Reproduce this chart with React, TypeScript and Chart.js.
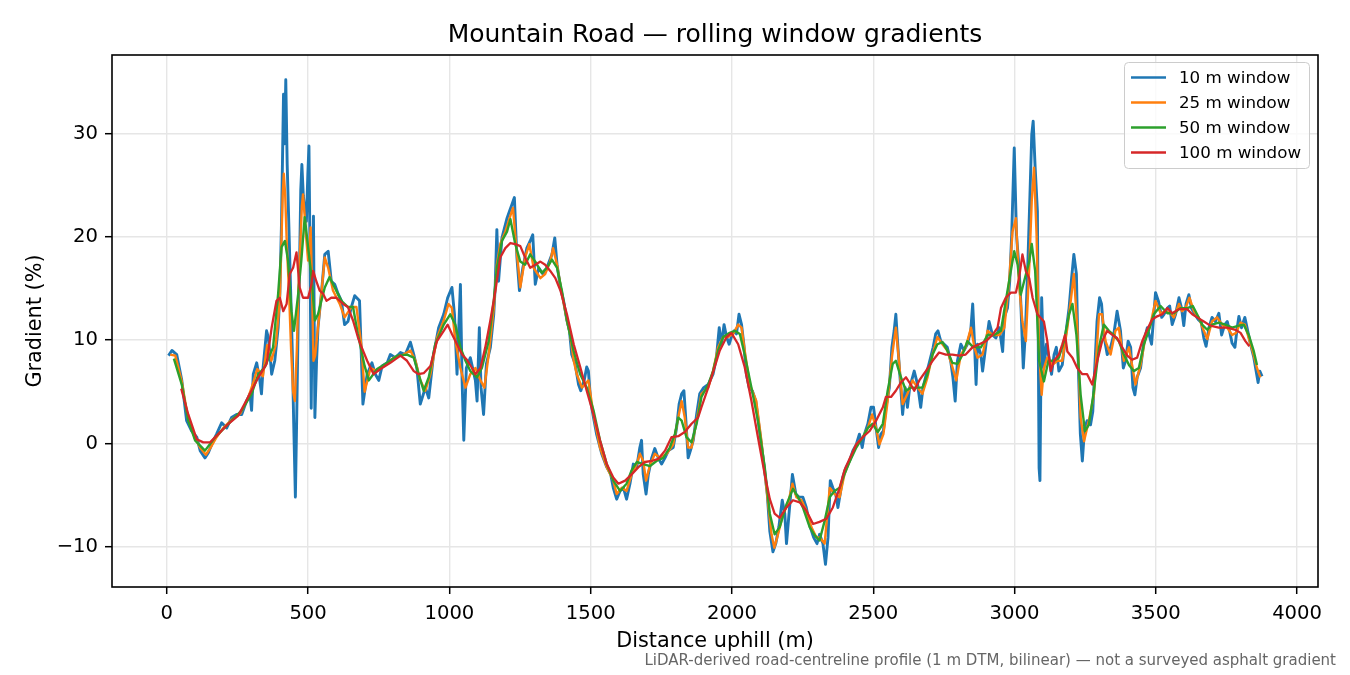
import React, { useEffect, useRef } from "react";
import { Chart, registerables } from "chart.js";

Chart.register(...registerables);

// ---------- data ----------
const dist10 = [
  6, 18, 35, 53, 70, 88, 106, 118, 135, 147,
  165, 176, 194, 212, 229, 247, 265, 282, 294, 300,
  306, 318, 329, 335, 341, 353, 359, 365, 371, 382,
  394, 400, 406, 413, 417, 421, 426, 432, 438, 444,
  449, 455, 460, 465, 470, 474, 478, 483, 489, 494,
  499, 503, 507, 511, 515, 519, 524, 530, 535, 547,
  559, 571, 582, 594, 606, 618, 629, 641, 653, 665,
  682, 694, 709, 726, 738, 750, 762, 780, 791, 809,
  827, 844, 862, 874, 885, 897, 915, 927, 944, 962,
  980, 994, 1009, 1018, 1027, 1039, 1045, 1051, 1060, 1074,
  1092, 1098, 1106, 1112, 1121, 1131, 1145, 1157, 1162, 1168,
  1174, 1186, 1204, 1213, 1221, 1230, 1239, 1248, 1260, 1274,
  1286, 1295, 1304, 1316, 1331, 1345, 1363, 1373, 1381, 1393,
  1404, 1416, 1425, 1433, 1445, 1457, 1465, 1477, 1486, 1492,
  1500, 1510, 1521, 1539, 1557, 1571, 1580, 1592, 1604, 1616,
  1627, 1639, 1651, 1663, 1674, 1680, 1686, 1696, 1704, 1716,
  1727, 1739, 1751, 1763, 1775, 1792, 1804, 1813, 1822, 1830,
  1837, 1845, 1853, 1863, 1875, 1886, 1900, 1916, 1933, 1945,
  1955, 1963, 1972, 1981, 1990, 1998, 2008, 2016, 2025, 2034,
  2042, 2051, 2061, 2072, 2084, 2098, 2113, 2125, 2134, 2145,
  2155, 2166, 2178, 2187, 2193, 2202, 2214, 2226, 2237, 2251,
  2263, 2277, 2289, 2301, 2310, 2322, 2331, 2340, 2348, 2357,
  2367, 2375, 2383, 2392, 2404, 2416, 2428, 2440, 2451, 2461,
  2469, 2481, 2492, 2501, 2510, 2519, 2527, 2536, 2545, 2557,
  2566, 2574, 2580, 2586, 2594, 2604, 2613, 2621, 2629, 2639,
  2645, 2657, 2668, 2676, 2688, 2700, 2712, 2721, 2729, 2739,
  2751, 2762, 2774, 2782, 2790, 2798, 2810, 2821, 2833, 2845,
  2852, 2858, 2864, 2869, 2881, 2887, 2899, 2910, 2922, 2934,
  2946, 2958, 2964, 2975, 2983, 2990, 2999, 3007, 3016, 3022,
  3031, 3038, 3046, 3054, 3061, 3066, 3073, 3081, 3087, 3090,
  3096, 3104, 3113, 3122, 3131, 3140, 3148, 3157, 3169, 3181,
  3193, 3202, 3210, 3219, 3226, 3233, 3240, 3248, 3257, 3269,
  3277, 3284, 3292, 3301, 3308, 3316, 3328, 3340, 3351, 3363,
  3375, 3385, 3393, 3402, 3411, 3419, 3426, 3434, 3446, 3458,
  3470, 3485, 3499, 3509, 3521, 3529, 3541, 3549, 3558, 3570,
  3582, 3591, 3599, 3607, 3617, 3626, 3638, 3650, 3661, 3670,
  3678, 3688, 3699, 3711, 3723, 3733, 3744, 3753, 3761, 3770,
  3780, 3788, 3794, 3803, 3815, 3823, 3835, 3847, 3855, 3862,
  3868, 3876,
];
const grad10 = [
  8.5, 9.0, 8.6, 6.1, 2.2, 1.2, 0.6, -0.7, -1.4, -0.9,
  0.3, 0.9, 2.0, 1.5, 2.5, 2.8, 2.8, 4.1, 4.8, 3.2,
  6.7, 7.8, 6.1, 4.8, 7.4, 10.9, 10.3, 8.6, 6.7, 8.0,
  11.2, 14.5, 21.5, 33.8, 29.0, 35.2, 27.0, 21.0, 15.0, 9.0,
  2.0, -5.2, 3.0, 12.0, 17.7, 24.5, 27.0, 24.0, 22.5, 21.5,
  26.0, 28.8, 18.0, 3.4, 14.0, 22.0, 2.5, 8.0, 11.2, 14.5,
  18.3, 18.6, 15.7, 15.4, 14.5, 13.8, 11.5, 11.8, 13.2, 14.3,
  13.8, 3.8, 6.7, 7.8, 6.7, 6.1, 7.5, 7.8, 8.6, 8.3,
  8.8, 8.6, 9.8, 8.6, 7.3, 3.8, 5.4, 4.4, 8.6, 11.2,
  12.5, 14.1, 15.1, 12.5, 6.7, 15.4, 6.1, 0.3, 7.3, 8.3,
  6.1, 4.1, 11.2, 5.4, 2.8, 7.7, 9.3, 12.5, 15.1, 20.7,
  15.7, 19.9, 21.8, 22.5, 23.1, 23.8, 18.0, 14.8, 17.0, 18.9,
  19.6, 20.2, 15.4, 17.0, 16.4, 17.0, 18.3, 19.9, 17.3, 15.1,
  13.8, 11.9, 10.9, 8.6, 7.7, 5.7, 5.1, 6.1, 7.4, 7.0,
  4.1, 2.5, 0.9, -1.0, -2.3, -3.0, -4.3, -5.4, -4.6, -4.3,
  -5.4, -3.9, -2.0, -2.3, -0.4, 0.3, -3.0, -4.9, -3.0, -1.4,
  -0.5, -1.4, -2.0, -1.4, -0.7, -0.4, 1.5, 3.8, 4.8, 5.1,
  2.2, -1.4, -0.7, 0.3, 2.8, 4.8, 5.4, 5.7, 6.7, 8.3,
  11.2, 9.6, 11.5, 10.3, 9.6, 10.3, 10.9, 10.6, 12.5, 11.5,
  9.6, 6.7, 5.4, 5.1, 4.1, 1.2, -2.0, -4.9, -8.5, -10.5,
  -9.7, -8.1, -5.5, -6.8, -9.7, -6.8, -3.0, -4.9, -5.2, -5.2,
  -6.2, -8.1, -9.1, -9.7, -8.8, -9.7, -11.7, -9.1, -3.6, -4.3,
  -4.9, -6.2, -4.9, -3.3, -2.3, -1.7, -0.7, -0.1, 0.9, -0.4,
  0.9, 1.9, 3.5, 3.5, 1.5, -0.4, 0.9, 1.2, 3.5, 5.4,
  9.3, 10.9, 12.5, 9.9, 6.7, 2.8, 5.4, 3.5, 5.4, 6.4,
  7.0, 5.7, 3.5, 5.4, 6.7, 8.0, 9.3, 10.6, 10.9, 9.9,
  9.6, 9.3, 8.0, 6.4, 4.1, 8.0, 9.6, 9.0, 9.6, 10.9,
  13.5, 9.9, 5.7, 9.6, 8.6, 7.0, 9.6, 11.8, 10.5, 10.2,
  11.2, 8.9, 12.2, 13.1, 15.7, 20.2, 28.6, 20.2, 17.0, 13.8,
  7.3, 10.5, 16.4, 23.5, 29.9, 31.2, 26.7, 22.5, -2.4, -3.6,
  14.1, 7.3, 9.6, 8.3, 6.7, 8.6, 9.3, 7.0, 7.6, 10.5,
  13.1, 16.0, 18.3, 16.4, 7.3, 0.9, -1.7, 1.5, 2.2, 1.8,
  3.1, 7.3, 11.8, 14.1, 13.5, 10.5, 8.6, 9.3, 10.5, 12.8,
  10.9, 7.3, 8.0, 9.9, 9.3, 5.4, 4.7, 6.4, 7.3, 9.9,
  11.2, 9.6, 14.6, 13.8, 12.2, 12.5, 13.1, 13.3, 11.5, 12.5,
  14.1, 13.1, 11.4, 13.5, 14.4, 13.1, 12.5, 12.0, 11.7, 10.2,
  9.4, 11.2, 12.2, 11.8, 12.6, 10.5, 11.5, 11.8, 10.9, 9.7,
  9.3, 11.2, 12.3, 11.2, 12.2, 11.2, 9.6, 8.3, 7.0, 5.9,
  7.0, 6.5,
];

const dist25 = [
  12, 30, 53, 76, 100, 120, 138, 155, 176, 200,
  230, 260, 285, 305, 320, 340, 355, 370, 385, 394,
  400, 405, 410, 414, 419, 425, 432, 440, 447, 453,
  460, 466, 472, 478, 482, 488, 493, 500, 505, 509,
  514, 519, 525, 529, 541, 559, 571, 588, 612, 629,
  653, 671, 688, 700, 721, 744, 768, 803, 838, 862,
  880, 897, 915, 933, 956, 980, 997, 1009, 1021, 1039,
  1057, 1074, 1092, 1110, 1124, 1139, 1157, 1168, 1180, 1198,
  1213, 1225, 1237, 1251, 1268, 1283, 1298, 1322, 1339, 1357,
  1367, 1381, 1398, 1416, 1427, 1440, 1451, 1469, 1492, 1510,
  1533, 1557, 1580, 1592, 1610, 1627, 1645, 1663, 1674, 1686,
  1696, 1708, 1727, 1745, 1769, 1792, 1810, 1822, 1833, 1845,
  1857, 1875, 1892, 1916, 1933, 1951, 1969, 1986, 2004, 2022,
  2034, 2045, 2063, 2086, 2104, 2122, 2140, 2150, 2163, 2181,
  2198, 2214, 2228, 2246, 2263, 2281, 2299, 2310, 2328, 2346,
  2363, 2381, 2398, 2416, 2440, 2463, 2481, 2496, 2510, 2522,
  2536, 2551, 2566, 2580, 2592, 2604, 2621, 2639, 2657, 2674,
  2692, 2710, 2727, 2745, 2762, 2780, 2794, 2810, 2827, 2846,
  2858, 2869, 2887, 2905, 2922, 2946, 2964, 2981, 2993, 3005,
  3016, 3028, 3040, 3052, 3061, 3069, 3078, 3087, 3096, 3104,
  3116, 3134, 3152, 3169, 3187, 3199, 3210, 3222, 3234, 3246,
  3263, 3281, 3299, 3310, 3322, 3340, 3357, 3369, 3387, 3405,
  3428, 3446, 3463, 3481, 3499, 3517, 3535, 3552, 3564, 3582,
  3593, 3605, 3619, 3635, 3652, 3670, 3682, 3699, 3717, 3735,
  3753, 3770, 3784, 3800, 3815, 3829, 3843, 3858, 3870,
];
const grad25 = [
  8.6, 8.5, 6.0, 2.3, 0.5, -0.5, -1.1, -0.4, 0.6, 1.5,
  2.3, 2.9, 4.2, 5.8, 7.2, 6.5, 9.5, 8.0, 9.5, 12.0,
  14.0, 19.0, 24.0, 26.1, 24.0, 19.0, 15.0, 9.0, 5.0, 4.1,
  9.0, 15.0, 19.0, 23.0, 24.1, 22.0, 20.0, 17.7, 19.0, 20.9,
  15.0, 8.0, 8.5, 9.6, 12.8, 18.0, 17.0, 14.8, 13.5, 12.2,
  13.2, 13.2, 9.6, 5.0, 7.3, 7.0, 7.5, 8.3, 8.6, 9.0,
  8.0, 6.1, 5.1, 6.7, 10.2, 11.9, 13.5, 13.1, 9.9, 7.3,
  5.4, 6.7, 7.3, 6.1, 5.4, 8.6, 13.1, 17.3, 19.3, 20.5,
  21.8, 22.8, 18.9, 15.1, 18.0, 19.3, 17.0, 16.0, 16.4, 17.6,
  18.9, 17.3, 14.5, 11.9, 10.6, 8.0, 6.7, 5.4, 6.1, 2.8,
  -0.4, -2.3, -3.6, -4.9, -4.3, -4.6, -3.0, -2.0, -1.0, -1.7,
  -3.6, -2.3, -1.0, -1.4, -1.0, -0.1, 2.5, 4.1, 2.5, -0.4,
  -0.4, 2.2, 4.8, 5.4, 7.0, 9.3, 10.3, 10.3, 10.6, 11.5,
  11.2, 9.0, 5.7, 4.1, 0.3, -4.3, -8.8, -10.1, -8.8, -6.8,
  -5.9, -3.9, -5.2, -5.5, -6.5, -8.1, -9.1, -9.1, -9.7, -4.3,
  -4.9, -5.2, -3.0, -1.7, -0.1, 0.6, 1.5, 2.8, 1.5, -0.1,
  0.9, 4.1, 8.3, 11.2, 7.7, 3.8, 4.8, 6.1, 5.4, 4.8,
  6.4, 8.6, 10.3, 9.6, 9.0, 7.4, 6.1, 8.6, 9.3, 11.2,
  9.3, 8.3, 8.6, 10.9, 10.5, 10.5, 11.2, 15.7, 20.5, 21.8,
  15.4, 11.8, 9.9, 17.0, 23.5, 26.7, 20.2, 8.9, 4.7, 7.3,
  8.3, 7.6, 8.0, 8.0, 11.2, 13.8, 16.4, 11.2, 2.5, 0.2,
  2.2, 4.7, 12.5, 12.5, 9.9, 8.6, 10.9, 11.2, 8.0, 9.3,
  5.7, 7.6, 10.2, 11.5, 13.8, 12.6, 12.8, 12.6, 12.2, 13.5,
  12.8, 13.1, 14.1, 12.8, 12.2, 10.9, 10.1, 11.8, 12.2, 11.5,
  11.2, 10.5, 10.7, 11.7, 11.5, 10.2, 8.9, 7.3, 6.4,
];

const dist50 = [
  25, 53, 76, 100, 135, 171, 218, 265, 300, 324,
  347, 376, 394, 406, 418, 429, 441, 450, 465, 476,
  488, 500, 512, 524, 535, 547, 559, 576, 594, 618,
  641, 659, 676, 700, 715, 744, 780, 815, 850, 874,
  891, 909, 927, 950, 980, 1003, 1021, 1039, 1057, 1074,
  1098, 1115, 1139, 1157, 1168, 1186, 1204, 1216, 1233, 1251,
  1268, 1286, 1304, 1327, 1345, 1363, 1381, 1398, 1416, 1439,
  1463, 1486, 1510, 1533, 1557, 1580, 1604, 1627, 1645, 1663,
  1686, 1710, 1733, 1757, 1780, 1798, 1810, 1822, 1839, 1857,
  1875, 1892, 1916, 1933, 1951, 1969, 1992, 2010, 2028, 2045,
  2069, 2092, 2116, 2134, 2151, 2169, 2193, 2216, 2234, 2251,
  2275, 2293, 2310, 2328, 2346, 2363, 2381, 2398, 2416, 2440,
  2463, 2481, 2498, 2516, 2534, 2551, 2569, 2580, 2598, 2616,
  2633, 2651, 2674, 2692, 2710, 2727, 2745, 2762, 2780, 2798,
  2816, 2833, 2851, 2869, 2881, 2905, 2928, 2952, 2969, 2987,
  2999, 3011, 3022, 3034, 3052, 3061, 3073, 3087, 3104, 3120,
  3140, 3157, 3175, 3193, 3205, 3219, 3234, 3249, 3263, 3281,
  3299, 3316, 3334, 3351, 3369, 3387, 3405, 3422, 3440, 3458,
  3476, 3493, 3517, 3541, 3564, 3587, 3611, 3631, 3646, 3664,
  3682, 3699, 3723, 3746, 3770, 3794, 3811, 3829, 3847, 3858,
];
const grad50 = [
  8.2, 5.7, 2.2, 0.3, -0.7, 0.6, 1.9, 3.2, 4.8, 6.7,
  7.4, 9.3, 14.5, 19.0, 19.6, 17.7, 12.8, 10.9, 14.5, 17.7,
  21.9, 19.0, 16.1, 11.9, 12.5, 13.8, 15.1, 16.1, 15.1, 13.8,
  13.2, 13.2, 10.6, 7.5, 6.1, 7.2, 7.8, 8.5, 8.6, 8.3,
  6.7, 5.1, 6.4, 9.6, 11.5, 12.5, 11.5, 9.3, 8.0, 7.0,
  6.4, 7.3, 9.9, 13.8, 17.0, 19.6, 20.5, 21.7, 19.3, 17.6,
  17.3, 18.3, 17.6, 16.5, 17.0, 17.8, 17.0, 14.8, 11.9, 9.0,
  6.7, 5.4, 3.2, 0.3, -2.0, -3.6, -4.6, -3.9, -2.6, -1.8,
  -2.0, -2.2, -1.7, -1.4, -0.4, 0.9, 2.5, 2.2, 0.6, 0.1,
  1.9, 4.5, 5.7, 7.0, 9.0, 10.3, 10.7, 10.9, 10.6, 8.6,
  5.4, 2.2, -2.3, -6.8, -8.8, -8.1, -5.9, -4.4, -5.2, -6.2,
  -8.1, -8.9, -9.4, -7.5, -5.2, -4.6, -4.3, -3.0, -1.8, -0.4,
  0.6, 1.5, 1.9, 1.1, 1.9, 5.1, 7.7, 8.0, 6.4, 5.1,
  5.4, 5.4, 5.4, 6.7, 8.6, 9.6, 9.8, 9.0, 7.8, 7.7,
  8.6, 9.9, 9.4, 9.3, 9.3, 10.5, 10.5, 10.9, 13.8, 16.7,
  18.6, 17.3, 14.4, 15.7, 17.6, 19.3, 16.7, 8.0, 6.0, 8.0,
  8.0, 8.3, 9.9, 12.5, 13.5, 10.5, 4.7, 1.2, 1.8, 5.1,
  9.3, 11.5, 10.9, 10.5, 9.9, 8.6, 7.6, 7.0, 7.3, 9.6,
  11.0, 12.5, 13.3, 12.6, 12.6, 13.1, 13.1, 13.3, 12.5, 11.5,
  11.0, 11.5, 11.7, 11.5, 11.2, 11.4, 11.5, 10.5, 8.9, 7.6,
];

const dist100 = [
  51, 76, 106, 129, 153, 182, 218, 253, 288, 324,
  353, 371, 388, 400, 412, 424, 435, 447, 459, 470,
  482, 500, 512, 518, 529, 541, 553, 565, 582, 600,
  624, 641, 659, 676, 685, 709, 732, 756, 791, 827,
  850, 874, 891, 909, 933, 956, 980, 994, 1009, 1027,
  1045, 1062, 1080, 1092, 1110, 1127, 1145, 1163, 1180, 1198,
  1216, 1233, 1251, 1268, 1286, 1304, 1322, 1339, 1357, 1375,
  1393, 1416, 1440, 1463, 1486, 1510, 1533, 1557, 1580, 1598,
  1622, 1645, 1669, 1692, 1716, 1739, 1763, 1786, 1810, 1833,
  1857, 1880, 1892, 1916, 1939, 1957, 1981, 1998, 2022, 2045,
  2069, 2092, 2116, 2134, 2151, 2169, 2193, 2216, 2240, 2263,
  2287, 2310, 2334, 2357, 2381, 2398, 2416, 2440, 2463, 2487,
  2510, 2534, 2545, 2563, 2580, 2598, 2616, 2633, 2645, 2663,
  2686, 2710, 2733, 2757, 2780, 2804, 2827, 2851, 2875, 2899,
  2922, 2940, 2952, 2969, 2987, 3005, 3016, 3028, 3040, 3052,
  3064, 3081, 3104, 3116, 3128, 3140, 3157, 3169, 3179, 3187,
  3205, 3222, 3240, 3257, 3275, 3293, 3310, 3328, 3346, 3363,
  3381, 3399, 3416, 3434, 3452, 3469, 3487, 3505, 3523, 3541,
  3558, 3582, 3611, 3629, 3646, 3670, 3693, 3723, 3753, 3782,
  3800, 3817, 3831,
];
const grad100 = [
  5.3, 2.8, 0.4, 0.1, 0.1, 0.9, 1.9, 2.7, 4.5, 6.4,
  7.7, 11.2, 13.8, 14.1, 12.8, 13.5, 16.4, 17.0, 18.5, 15.1,
  14.1, 14.1, 15.4, 16.7, 15.7, 14.8, 14.5, 13.8, 14.1, 14.1,
  13.5, 13.2, 11.9, 10.3, 9.6, 8.0, 6.7, 7.2, 7.8, 8.5,
  8.0, 7.0, 6.7, 6.8, 7.5, 9.9, 10.9, 11.5, 10.6, 9.6,
  8.6, 8.1, 7.3, 6.7, 7.3, 9.3, 11.9, 14.8, 18.0, 18.9,
  19.4, 19.3, 19.1, 18.0, 17.0, 17.3, 17.6, 17.3, 16.7, 16.0,
  14.8, 12.5, 9.6, 7.4, 5.1, 2.8, 0.3, -2.0, -3.3, -3.9,
  -3.6, -3.0, -2.3, -1.8, -1.7, -1.5, -0.7, 0.6, 0.7, 1.1,
  1.9, 2.5, 3.5, 5.4, 7.4, 9.0, 10.3, 10.7, 9.6, 7.4,
  4.1, 0.6, -3.0, -5.4, -6.8, -7.2, -6.2, -5.5, -5.7, -6.5,
  -7.8, -7.6, -7.3, -6.2, -4.3, -2.6, -1.5, -0.1, 0.6, 1.2,
  2.2, 3.5, 4.5, 4.5, 5.1, 5.9, 6.4, 5.7, 5.1, 6.1,
  7.0, 8.0, 8.8, 8.6, 8.6, 8.5, 8.6, 9.3, 9.6, 9.9,
  10.5, 11.2, 13.1, 14.1, 14.6, 14.6, 16.0, 18.3, 16.7, 16.0,
  14.1, 12.5, 11.8, 9.9, 7.0, 8.0, 8.6, 9.6, 10.5, 8.9,
  8.3, 7.3, 6.7, 6.7, 5.7, 8.0, 9.9, 10.9, 10.5, 10.2,
  9.3, 8.5, 8.1, 8.3, 9.9, 11.0, 12.0, 12.3, 12.5, 13.1,
  12.6, 13.0, 13.0, 12.5, 12.2, 11.8, 11.4, 11.2, 11.2, 11.0,
  10.7, 9.9, 9.4,
];

const xTicks = [0, 500, 1000, 1500, 2000, 2500, 3000, 3500, 4000];
const yTicks = [-10, 0, 10, 20, 30];
const seriesLabels = ["10 m window", "25 m window", "50 m window", "100 m window"];
const seriesColors = ["#1f77b4", "#ff7f0e", "#2ca02c", "#d62728"];

const titleText = "Mountain Road \u2014 rolling window gradients";
const xLabel = "Distance uphill (m)";
const yLabel = "Gradient (%)";
const footText =
  "LiDAR-derived road-centreline profile (1 m DTM, bilinear) \u2014 not a surveyed asphalt gradient";

const FONT = "'DejaVu Sans', 'Liberation Sans', sans-serif";

function pts(xs: number[], ys: number[]) {
  const n = Math.min(xs.length, ys.length);
  const out: { x: number; y: number }[] = [];
  for (let i = 0; i < n; i++) out.push({ x: xs[i], y: ys[i] });
  return out;
}

const lineWidths = [2.9, 2.4, 2.4, 2.3];

const decorPlugin = {
  id: "decor",
  afterDatasetsDraw(chart: any) {
    const { ctx, chartArea: a } = chart;
    ctx.save();
    // frame
    ctx.strokeStyle = "#000";
    ctx.lineWidth = 1.6;
    ctx.strokeRect(a.left, a.top, a.right - a.left, a.bottom - a.top);

    // legend
    const lx = 1124.5, ly = 62.5, lw = 185, lh = 106, r = 4;
    ctx.beginPath();
    ctx.moveTo(lx + r, ly);
    ctx.lineTo(lx + lw - r, ly);
    ctx.quadraticCurveTo(lx + lw, ly, lx + lw, ly + r);
    ctx.lineTo(lx + lw, ly + lh - r);
    ctx.quadraticCurveTo(lx + lw, ly + lh, lx + lw - r, ly + lh);
    ctx.lineTo(lx + r, ly + lh);
    ctx.quadraticCurveTo(lx, ly + lh, lx, ly + lh - r);
    ctx.lineTo(lx, ly + r);
    ctx.quadraticCurveTo(lx, ly, lx + r, ly);
    ctx.closePath();
    ctx.fillStyle = "rgba(255,255,255,0.8)";
    ctx.fill();
    ctx.strokeStyle = "#cccccc";
    ctx.lineWidth = 1;
    ctx.stroke();

    ctx.font = `16.7px ${FONT}`;
    ctx.textBaseline = "middle";
    ctx.textAlign = "left";
    for (let i = 0; i < seriesLabels.length; i++) {
      const y = 77.5 + i * 25;
      ctx.strokeStyle = seriesColors[i];
      ctx.lineWidth = 2.6;
      ctx.beginPath();
      ctx.moveTo(1131, y);
      ctx.lineTo(1166, y);
      ctx.stroke();
      ctx.fillStyle = "#000";
      ctx.fillText(seriesLabels[i], 1179, y + 1);
    }
    ctx.restore();
  },
  afterDraw(chart: any) {
    const { ctx, chartArea: a } = chart;
    ctx.save();
    ctx.fillStyle = "#000";
    ctx.textAlign = "center";
    ctx.textBaseline = "alphabetic";
    ctx.font = `25px ${FONT}`;
    ctx.fillText(titleText, (a.left + a.right) / 2, 42);

    ctx.font = `20.8px ${FONT}`;
    ctx.fillText(xLabel, (a.left + a.right) / 2, 646.5);

    ctx.save();
    ctx.translate(41, (a.top + a.bottom) / 2);
    ctx.rotate(-Math.PI / 2);
    ctx.fillText(yLabel, 0, 0);
    ctx.restore();

    ctx.font = `15px ${FONT}`;
    ctx.fillStyle = "#666666";
    ctx.textAlign = "right";
    ctx.fillText(footText, 1336, 665);
    ctx.restore();
  },
};

export default function App() {
  const ref = useRef<HTMLCanvasElement>(null);

  useEffect(() => {
    const canvas = ref.current;
    if (!canvas) return;
    const seriesDist = [dist10, dist25, dist50, dist100];
    const seriesGrad = [grad10, grad25, grad50, grad100];
    const datasets = seriesLabels.map((label, i) => ({
      label,
      data: pts(seriesDist[i], seriesGrad[i]),
      borderColor: seriesColors[i],
      backgroundColor: seriesColors[i],
      borderWidth: lineWidths[i],
      pointRadius: 0,
      pointHoverRadius: 0,
      tension: 0,
      fill: false,
      borderJoinStyle: "round" as const,
      borderCapStyle: "butt" as const,
      order: seriesLabels.length - i,
    }));

    const tickFont = { family: FONT, size: 19.6 };

    const chart = new Chart(canvas, {
      type: "line",
      data: { datasets },
      plugins: [decorPlugin],
      options: {
        animation: false,
        responsive: false,
        devicePixelRatio: 1,
        events: [],
        layout: { padding: { top: 55, right: 32, left: 0, bottom: 0 } },
        plugins: {
          legend: { display: false },
          title: { display: false },
          tooltip: { enabled: false },
        },
        scales: {
          x: {
            type: "linear",
            min: -194,
            max: 4074,
            afterBuildTicks: (s: any) => {
              s.ticks = xTicks.map((v) => ({ value: v }));
            },
            afterFit: (s: any) => {
              s.height = 88;
            },
            grid: {
              color: "#e6e6e6",
              lineWidth: 1.4,
              tickColor: "#000",
              tickLength: 7,
              tickWidth: 1.5,
            },
            border: { display: false },
            ticks: {
              font: tickFont,
              color: "#000",
              padding: 8,
              maxRotation: 0,
              autoSkip: false,
              callback: (v: any) => String(v),
            },
          },
          y: {
            type: "linear",
            min: -13.9,
            max: 37.6,
            afterBuildTicks: (s: any) => {
              s.ticks = yTicks.map((v) => ({ value: v }));
            },
            afterFit: (s: any) => {
              s.width = 112;
            },
            grid: {
              color: "#e6e6e6",
              lineWidth: 1.4,
              tickColor: "#000",
              tickLength: 7,
              tickWidth: 1.5,
            },
            border: { display: false },
            ticks: {
              font: tickFont,
              color: "#000",
              padding: 7,
              autoSkip: false,
              callback: (v: any) =>
                Number(v) < 0 ? "\u2212" + Math.abs(Number(v)) : String(v),
            },
          },
        },
      },
    } as any);

    return () => chart.destroy();
  }, []);

  return (
    <div
      style={{
        position: "fixed",
        left: 0,
        top: 0,
        width: 1350,
        height: 675,
        background: "#ffffff",
      }}
    >
      <canvas
        ref={ref}
        width={1350}
        height={675}
        style={{ display: "block", width: 1350, height: 675 }}
      />
    </div>
  );
}
